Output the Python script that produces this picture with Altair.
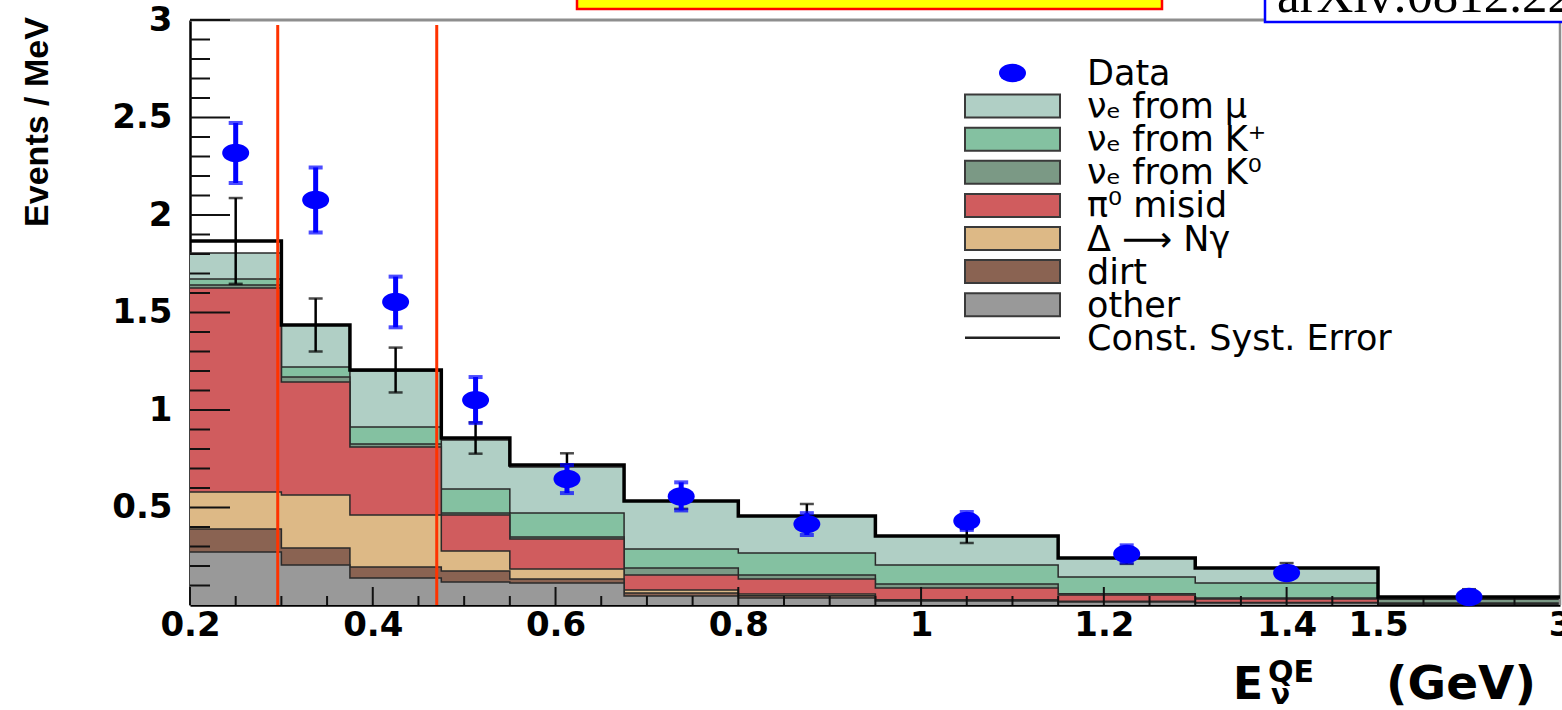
import altair as alt
import pandas as pd

# ---- binning (GeV); the last bin 1.5-3 is drawn on a compressed segment ----
EDGES = [0.2, 0.3, 0.375, 0.475, 0.55, 0.675, 0.8, 0.95, 1.15, 1.3, 1.5, 3.0]
BIN_CENTERS = [0.25, 0.3375, 0.425, 0.5125, 0.6125, 0.7375, 0.875, 1.05, 1.225, 1.4, 2.25]

# ---- background contributions per bin (Events / MeV), bottom of stack first ----
OTHER = [0.272, 0.205, 0.138, 0.118, 0.113, 0.046, 0.036, 0.020, 0.015, 0.010, 0.004]
DIRT = [0.118, 0.087, 0.057, 0.056, 0.020, 0.016, 0.012, 0.004, 0.002, 0.002, 0.001]
DELTA = [0.189, 0.272, 0.267, 0.103, 0.052, 0.015, 0.008, 0.003, 0.002, 0.001, 0.001]
PI0 = [1.047, 0.580, 0.348, 0.185, 0.153, 0.077, 0.077, 0.060, 0.032, 0.018, 0.004]
K0 = [0.015, 0.025, 0.016, 0.010, 0.011, 0.036, 0.021, 0.021, 0.007, 0.005, 0.020]
KPLUS = [0.031, 0.052, 0.087, 0.123, 0.123, 0.097, 0.113, 0.097, 0.086, 0.077, 0.006]
MU = [0.133, 0.215, 0.287, 0.251, 0.236, 0.246, 0.189, 0.149, 0.097, 0.077, 0.005]

# ---- total prediction with constant systematic error ----
PRED = [1.867, 1.436, 1.205, 0.856, 0.718, 0.533, 0.456, 0.354, 0.241, 0.190, 0.041]
PRED_ERR = [0.220, 0.136, 0.115, 0.080, 0.060, 0.040, 0.062, 0.036, 0.030, 0.025, 0.040]

# ---- data ----
DATA_Y = [2.318, 2.077, 1.554, 1.051, 0.646, 0.557, 0.415, 0.431, 0.262, 0.164, 0.041]
DATA_ERR = [0.154, 0.167, 0.130, 0.118, 0.072, 0.072, 0.056, 0.046, 0.044, 0.030, 0.020]

# low-energy region boundaries
REGION_LINES = [0.296, 0.470]

COMPONENTS = ["other", "dirt", "Δ → Nγ", "π⁰ misid", "νₑ from K⁰", "νₑ from K⁺", "νₑ from μ"]
COMPONENT_VALUES = [OTHER, DIRT, DELTA, PI0, K0, KPLUS, MU]
COMPONENT_COLORS = ["#999999", "#8a6352", "#ddb986", "#d05c5e", "#7b9985", "#84c1a1", "#b0cfc5"]

LEGEND_LABELS = ["Data", "νₑ from μ", "νₑ from K⁺", "νₑ from K⁰", "π⁰ misid",
                 "Δ ⟶ Nγ", "dirt", "other", "Const. Syst. Error"]

X_LABELS = [0.2, 0.4, 0.6, 0.8, 1.0, 1.2, 1.4, 1.5, 3.0]
Y_LABELS = [0.5, 1.0, 1.5, 2.0, 2.5, 3.0]
X_MAJOR = [0.2, 0.4, 0.6, 0.8, 1.0, 1.2, 1.4]
X_MINOR = [round(0.2 + 0.05 * i, 3) for i in range(27)] + [1.875, 2.25, 2.625]
Y_MAJOR = [0.5, 1.0, 1.5, 2.0, 2.5, 3.0]
Y_MINOR = [round(0.1 * i, 2) for i in range(1, 30)]

W, H = 1370, 585
BOLD = "DejaVu Sans"

x_scale = alt.Scale(domain=[0.2, 1.5, 3.0], range=[0, 1188, W], nice=False, zero=False)
y_scale = alt.Scale(domain=[0, 3], nice=False, zero=False)

x_axis = alt.Axis(
    values=X_LABELS, labelExpr="toString(datum.value)", ticks=False, grid=False,
    domainColor="black", domainWidth=2.5, labelFont=BOLD, labelFontWeight="bold",
    labelFontSize=34, labelColor="black", labelPadding=3, labelOverlap=False,
    labelFlush=False, labelBound=False, title=None,
)
y_axis = alt.Axis(
    values=Y_LABELS, labelExpr="toString(datum.value)", ticks=False, grid=False,
    domainColor="black", domainWidth=2.5, labelFont=BOLD, labelFontWeight="bold",
    labelFontSize=34, labelColor="black", labelPadding=18, labelOverlap=False,
    labelFlush=False, labelBound=False, title=None,
)

one = pd.DataFrame({"k": [0]})


def step_frame(values):
    return pd.DataFrame({"e": EDGES, "v": list(values) + [values[-1]]})


def xenc(field):
    return alt.X(field, type="quantitative", scale=x_scale, axis=x_axis)


def yenc(field):
    return alt.Y(field, type="quantitative", scale=y_scale, axis=y_axis)


layers = []

# stacked backgrounds: cumulative sums, painted from the top of the stack down
cum = []
running = [0.0] * len(OTHER)
for vals in COMPONENT_VALUES:
    running = [a + b for a, b in zip(running, vals)]
    cum.append(list(running))

for idx in reversed(range(len(COMPONENTS))):
    layers.append(alt.Chart(step_frame(cum[idx])).mark_area(
        interpolate="step-after", color=COMPONENT_COLORS[idx], opacity=1,
        line={"color": "#2a2a2a", "strokeWidth": 1.5},
    ).encode(x=xenc("e"), y=yenc("v")))

# frame: grey top and right edges
layers.append(alt.Chart(one).mark_rule(color="#8e8e8e", strokeWidth=3).encode(
    x=alt.value(0), x2=alt.value(W + 5), y=alt.value(0)))
layers.append(alt.Chart(one).mark_rule(color="#8e8e8e", strokeWidth=2.5).encode(
    x=alt.value(W), y=alt.value(0), y2=alt.value(H)))

# inward tick marks
ytick_major = pd.DataFrame({"t": Y_MAJOR})
ytick_minor = pd.DataFrame({"t": [t for t in Y_MINOR if abs(t * 2 - round(t * 2)) > 1e-6]})
xtick_major = pd.DataFrame({"t": X_MAJOR})
xtick_minor = pd.DataFrame({"t": [t for t in X_MINOR if t not in X_MAJOR]})
layers.append(alt.Chart(ytick_major).mark_rule(color="#111", strokeWidth=2).encode(
    y=yenc("t"), x=alt.value(0), x2=alt.value(40)))
layers.append(alt.Chart(ytick_minor).mark_rule(color="#111", strokeWidth=2).encode(
    y=yenc("t"), x=alt.value(0), x2=alt.value(20)))
layers.append(alt.Chart(xtick_major).mark_rule(color="#111", strokeWidth=2).encode(
    x=xenc("t"), y=alt.value(H), y2=alt.value(H - 18)))
layers.append(alt.Chart(xtick_minor).mark_rule(color="#111", strokeWidth=2).encode(
    x=xenc("t"), y=alt.value(H), y2=alt.value(H - 9)))

# prediction with constant systematic error
layers.append(alt.Chart(step_frame(PRED)).mark_line(
    interpolate="step-after", color="black", strokeWidth=3.5).encode(
    x=xenc("e"), y=yenc("v")))

# low-energy region boundaries
layers.append(alt.Chart(pd.DataFrame({"x": REGION_LINES})).mark_rule(
    color="#ff3300", strokeWidth=3).encode(x=xenc("x"), y=alt.value(5), y2=alt.value(H)))

# systematic error bars
pred_df = pd.DataFrame({
    "x": BIN_CENTERS,
    "lo": [p - e for p, e in zip(PRED, PRED_ERR)],
    "hi": [p + e for p, e in zip(PRED, PRED_ERR)],
})
layers.append(alt.Chart(pred_df).mark_rule(color="black", strokeWidth=2.5).encode(
    x=xenc("x"), y=yenc("lo"), y2="hi"))
for f in ["lo", "hi"]:
    layers.append(alt.Chart(pred_df).mark_tick(
        orient="horizontal", color="black", size=14, thickness=2.5).encode(
        x=xenc("x"), y=yenc(f)))

# data points
data_df = pd.DataFrame({
    "x": BIN_CENTERS,
    "y": DATA_Y,
    "lo": [v - e for v, e in zip(DATA_Y, DATA_ERR)],
    "hi": [v + e for v, e in zip(DATA_Y, DATA_ERR)],
})
BLUE = "#0000ff"
ELLIPSE = "M-1,0A1,0.68,0,1,1,1,0A1,0.68,0,1,1,-1,0Z"
layers.append(alt.Chart(data_df).mark_rule(color=BLUE, strokeWidth=5).encode(
    x=xenc("x"), y=yenc("lo"), y2="hi"))
for f in ["lo", "hi"]:
    layers.append(alt.Chart(data_df).mark_tick(
        orient="horizontal", color=BLUE, size=14, thickness=4).encode(
        x=xenc("x"), y=yenc(f)))
layers.append(alt.Chart(data_df).mark_point(
    shape=ELLIPSE, filled=True, color=BLUE, opacity=1, size=729).encode(
    x=xenc("x"), y=yenc("y")))

# legend
LEG_X0, LEG_X1, LEG_TEXT_X = 775, 870, 897
LEG_Y0, LEG_DY = 53, 33.1
swatch_colors = {name: col for name, col in zip(COMPONENTS, COMPONENT_COLORS)}
for i, label in enumerate(LEGEND_LABELS):
    cy = LEG_Y0 + i * LEG_DY
    if i == 0:
        layers.append(alt.Chart(one).mark_point(
            shape=ELLIPSE, filled=True, color=BLUE, opacity=1, size=729).encode(
            x=alt.value((LEG_X0 + LEG_X1) / 2), y=alt.value(cy)))
    elif label == "Const. Syst. Error":
        layers.append(alt.Chart(one).mark_rule(color="#222", strokeWidth=2.5).encode(
            x=alt.value(LEG_X0), x2=alt.value(LEG_X1), y=alt.value(cy)))
    else:
        key = label.replace("⟶", "→")
        layers.append(alt.Chart(one).mark_rect(
            color=swatch_colors[key], stroke="#3a3a3a", strokeWidth=2).encode(
            x=alt.value(LEG_X0), x2=alt.value(LEG_X1),
            y=alt.value(cy - 11.5), y2=alt.value(cy + 11.5)))
    layers.append(alt.Chart(one).mark_text(
        text=label, font="DejaVu Sans", fontSize=35, color="black",
        align="left", baseline="middle").encode(
        x=alt.value(LEG_TEXT_X), y=alt.value(cy + 1)))

# axis titles
layers.append(alt.Chart(one).mark_text(
    text="Events / MeV", angle=270, font="Liberation Sans", fontWeight="bold",
    fontSize=34, color="black", align="center", baseline="middle").encode(
    x=alt.value(-152), y=alt.value(102)))
layers.append(alt.Chart(one).mark_text(
    text="E", font=BOLD, fontWeight="bold", fontSize=44, color="black",
    align="left", baseline="alphabetic").encode(x=alt.value(1043), y=alt.value(679)))
layers.append(alt.Chart(one).mark_text(
    text="QE", font=BOLD, fontWeight="bold", fontSize=30, color="black",
    align="left", baseline="alphabetic").encode(x=alt.value(1078), y=alt.value(662)))
layers.append(alt.Chart(one).mark_text(
    text="ν", font=BOLD, fontWeight="bold", fontSize=28, color="black",
    align="left", baseline="alphabetic").encode(x=alt.value(1081), y=alt.value(684)))
layers.append(alt.Chart(one).mark_text(
    text="(GeV)", font=BOLD, fontWeight="bold", fontSize=47, color="black",
    align="center", baseline="alphabetic").encode(x=alt.value(1271), y=alt.value(679)))

# header boxes
layers.append(alt.Chart(one).mark_rect(
    color="#ffff00", stroke="#ff0000", strokeWidth=2.5).encode(
    x=alt.value(387), x2=alt.value(972), y=alt.value(-40), y2=alt.value(-11)))
layers.append(alt.Chart(one).mark_rect(
    color="white", stroke="#0000ff", strokeWidth=2.5).encode(
    x=alt.value(1075), x2=alt.value(1390), y=alt.value(-60), y2=alt.value(2)))
layers.append(alt.Chart(one).mark_text(
    text="arXiv:0812.2243", font="Liberation Serif", fontSize=51, color="black",
    align="left", baseline="alphabetic").encode(x=alt.value(1087), y=alt.value(-8)))

chart = alt.layer(*layers).properties(
    width=W, height=H,
    autosize=alt.AutoSizeParams(type="none"),
    padding={"left": 190, "top": 20, "right": 2, "bottom": 105},
    background="white",
).configure_view(stroke=None)

chart.save("out.html", embed_options={"renderer": "svg", "actions": False})
